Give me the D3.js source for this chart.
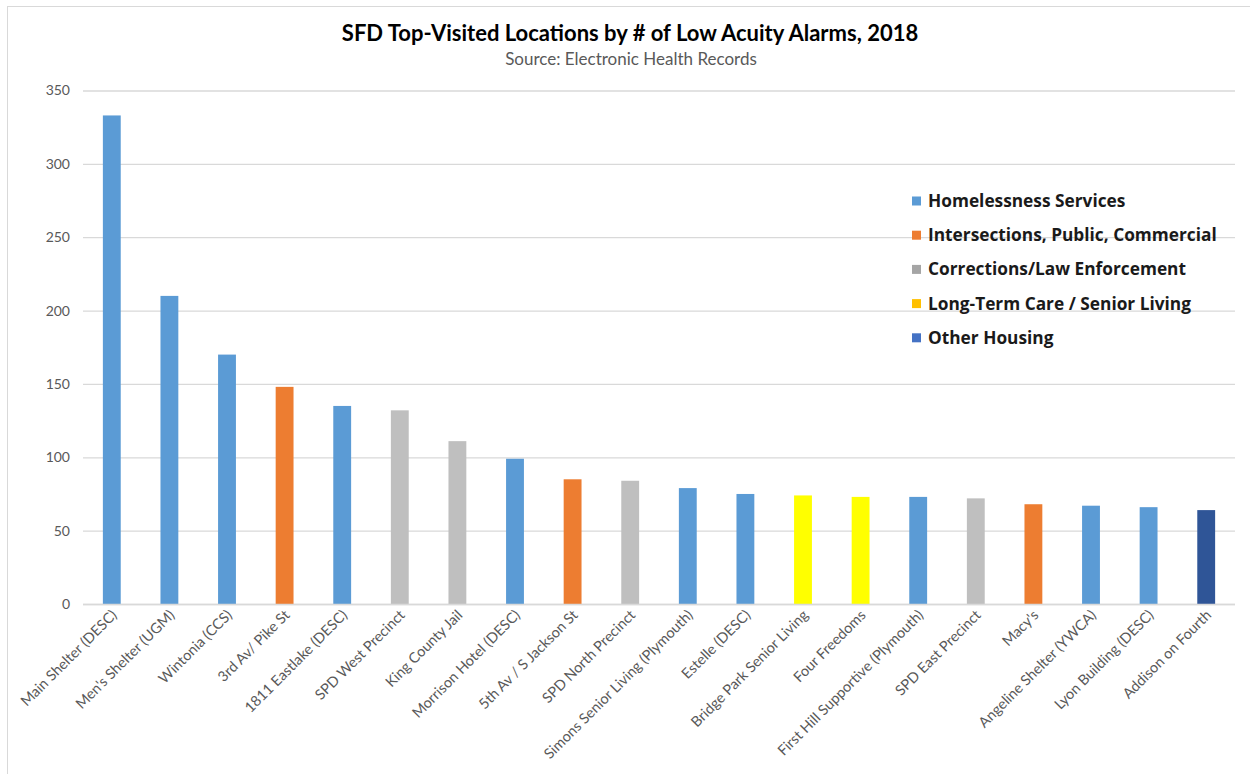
<!DOCTYPE html>
<html>
<head>
<meta charset="utf-8">
<script src="https://cdn.jsdelivr.net/npm/d3@7"></script>
<style>
  body { margin: 0; background: #fff; }
  svg { display: block; }
</style>
</head>
<body>
<svg id="chart" width="1250" height="774"></svg>
<script>
const categories = [
  "Main Shelter (DESC)", "Men's Shelter (UGM)", "Wintonia (CCS)", "3rd Av/ Pike St",
  "1811 Eastlake (DESC)", "SPD West Precinct", "King County Jail", "Morrison Hotel (DESC)",
  "5th Av / S Jackson St", "SPD North Precinct", "Simons Senior Living (Plymouth)", "Estelle (DESC)",
  "Bridge Park Senior Living", "Four Freedoms", "First Hill Supportive (Plymouth)", "SPD East Precinct",
  "Macy's", "Angeline Shelter (YWCA)", "Lyon Building (DESC)", "Addison on Fourth"
];
const values = [333, 210, 170, 148, 135, 132, 111, 99, 85, 84, 79, 75, 74, 73, 73, 72, 68, 67, 66, 64];
const groups = [0, 0, 0, 1, 0, 2, 2, 0, 1, 2, 0, 0, 3, 3, 0, 2, 1, 0, 0, 4];
const groupNames = ["Homelessness Services", "Intersections, Public, Commercial", "Corrections/Law Enforcement", "Long-Term Care / Senior Living", "Other Housing"];
const barColors = ["#5B9BD5", "#ED7D31", "#BFBFBF", "#FFFF00", "#2F5597"];
const legendColors = ["#5B9BD5", "#ED7D31", "#A5A5A5", "#FFC000", "#4472C4"];
const yTicks = [0, 50, 100, 150, 200, 250, 300, 350];
const title = "SFD Top-Visited Locations by # of Low Acuity Alarms, 2018";
const subtitle = "Source: Electronic Health Records";

const svg = d3.select("#chart");
const font = "Lato, 'Open Sans', 'Liberation Sans', sans-serif";
const legendFont = "'Open Sans', Lato, sans-serif";

// chart border
svg.append("rect").attr("x", 7.5).attr("y", 6.5).attr("width", 1260).attr("height", 800)
  .attr("fill", "none").attr("stroke", "#d9d9d9").attr("stroke-width", 1);

const plotLeft = 83, plotRight = 1235, plotTop = 90.5, plotBottom = 604;
const x = d3.scaleBand().domain(categories).range([plotLeft, plotRight]).paddingInner(0.69).paddingOuter(0.345);
const y = d3.scaleLinear().domain([0, 350]).range([plotBottom, plotTop]);

// gridlines + y axis labels
const yAxis = d3.axisLeft(y).tickValues(yTicks).tickSize(-(plotRight - plotLeft)).tickPadding(13);
const gy = svg.append("g").attr("transform", `translate(${plotLeft},0)`).call(yAxis);
gy.select(".domain").remove();
gy.selectAll(".tick line").attr("stroke", "#d9d9d9").attr("stroke-width", 1.3);
gy.selectAll(".tick text").attr("fill", "#595959").attr("font-size", 14).attr("font-family", font);

// bars
svg.append("g").selectAll("rect").data(categories).join("rect")
  .attr("x", d => x(d))
  .attr("width", x.bandwidth())
  .attr("y", (d, i) => y(values[i]))
  .attr("height", (d, i) => y(0) - y(values[i]))
  .attr("fill", (d, i) => barColors[groups[i]]);

// baseline
svg.append("line").attr("x1", plotLeft).attr("x2", plotRight).attr("y1", plotBottom + 0.5).attr("y2", plotBottom + 0.5)
  .attr("stroke", "#d9d9d9").attr("stroke-width", 1.3);

// x axis labels
const xAxis = d3.axisBottom(x).tickSize(0).tickPadding(0);
const gx = svg.append("g").attr("transform", `translate(0,${plotBottom})`).call(xAxis);
gx.select(".domain").remove();
gx.selectAll(".tick text")
  .attr("fill", "#595959").attr("font-size", 14.5).attr("font-family", font)
  .attr("text-anchor", "end").attr("dy", null).attr("y", 0)
  .attr("transform", "translate(6,12) rotate(-45)");

// title
svg.append("text").attr("x", 630).attr("y", 41).attr("text-anchor", "middle")
  .attr("font-family", font).attr("font-weight", "bold").attr("font-size", 22).attr("fill", "#000")
  .text(title);
svg.append("text").attr("x", 631).attr("y", 65).attr("text-anchor", "middle")
  .attr("font-family", font).attr("font-size", 17).attr("fill", "#595959")
  .text(subtitle);

// legend
const lg = svg.append("g");
groupNames.forEach((name, i) => {
  const cy = 201 + i * 34.2;
  lg.append("rect").attr("x", 912).attr("y", cy - 4.5).attr("width", 9).attr("height", 9).attr("fill", legendColors[i]);
  lg.append("text").attr("x", 928).attr("y", cy).attr("dy", "0.35em")
    .attr("font-family", legendFont).attr("font-weight", "bold").attr("font-size", 17.3).attr("fill", "#1a1a1a")
    .text(name);
});
</script>
</body>
</html>
